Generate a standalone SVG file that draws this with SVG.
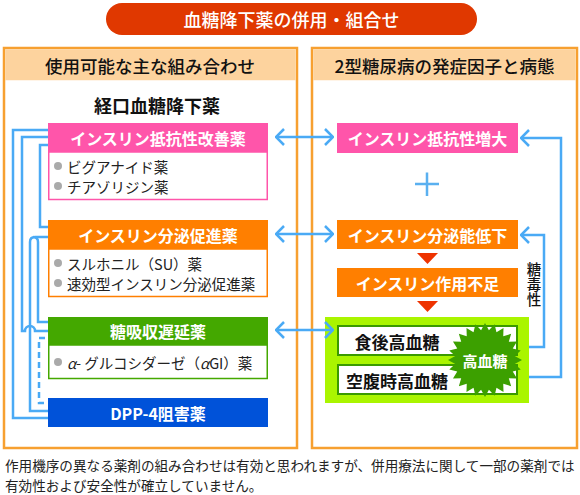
<svg xmlns="http://www.w3.org/2000/svg" width="580" height="495" viewBox="0 0 580 495">
<style>
text{font-family:"Noto Sans CJK JP","Noto Sans",sans-serif;dominant-baseline:central}
.panel{fill:#fff;stroke:#f7a030;stroke-width:2.5}
.phead{fill:#fdd39e}
.ptxt{font-size:17.5px;font-weight:500;fill:#111;text-anchor:middle}
.htxt{font-size:16px;font-weight:bold;fill:#fff;text-anchor:middle}
.itxt{font-size:14.5px;fill:#222}
.dot{fill:#aaa}
.con{fill:none;stroke:#4aaaf5;stroke-width:2.5}
.arr{fill:none;stroke:#4aaaf5;stroke-width:2.5;marker-start:url(#ch);marker-end:url(#ch)}
.arr1{fill:none;stroke:#4aaaf5;stroke-width:2.5;marker-end:url(#ch)}
.btxt{font-size:17px;font-weight:bold;fill:#111;text-anchor:middle}
.foot{font-size:13.6px;fill:#222}
</style>
<defs>
<marker id="ch" viewBox="0 0 10 18" refX="9" refY="9" markerWidth="10" markerHeight="18" markerUnits="userSpaceOnUse" orient="auto-start-reverse">
<path d="M1,1 L9,9 L1,17" fill="none" stroke="#4aaaf5" stroke-width="2.5"/>
</marker>
</defs>

<g id="title">
<rect x="106" y="3" width="371" height="32" rx="16" fill="#e03800"/>
<text x="291.5" y="19" font-size="18" font-weight="500" fill="#fff" text-anchor="middle">血糖降下薬の併用・組合せ</text>
</g>

<g id="panel-left">
<rect class="panel" x="4" y="48" width="293" height="400"/>
<rect class="phead" x="5.25" y="49.25" width="290.5" height="31"/>
<text class="ptxt" x="150" y="65">使用可能な主な組み合わせ</text>
<text x="157" y="105" font-size="18" font-weight="bold" fill="#111" text-anchor="middle">経口血糖降下薬</text>
</g>

<g id="panel-right">
<rect class="panel" x="312" y="48" width="265" height="400"/>
<rect class="phead" x="313.25" y="49.25" width="262.5" height="31"/>
<text class="ptxt" x="444.5" y="65">2型糖尿病の発症因子と病態</text>
</g>

<g id="drug-insulin-resistance">
<rect x="48.75" y="152" width="218.5" height="47.5" fill="#fff" stroke="#ff55aa" stroke-width="1.5"/>
<rect x="48" y="123" width="220" height="29" fill="#ff55aa"/>
<text class="htxt" x="158" y="137.5">インスリン抵抗性改善薬</text>
<circle class="dot" cx="58" cy="166" r="4"/>
<circle class="dot" cx="58" cy="186" r="4"/>
<text class="itxt" x="67" y="166">ビグアナイド薬<tspan x="67" dy="20">チアゾリジン薬</tspan></text>
</g>

<g id="drug-secretagogue">
<rect x="48.75" y="249" width="218.5" height="47.5" fill="#fff" stroke="#ff7f00" stroke-width="1.5"/>
<rect x="48" y="220" width="220" height="29" fill="#ff7f00"/>
<text class="htxt" x="158" y="234.5">インスリン分泌促進薬</text>
<circle class="dot" cx="58" cy="263" r="4"/>
<circle class="dot" cx="58" cy="283" r="4"/>
<text class="itxt" x="67" y="263">スルホニル（SU）薬<tspan x="67" dy="20">速効型インスリン分泌促進薬</tspan></text>
</g>

<g id="drug-agi">
<rect x="48.75" y="345" width="218.5" height="33.5" fill="#fff" stroke="#44a800" stroke-width="1.5"/>
<rect x="48" y="317" width="220" height="28" fill="#44a800"/>
<text class="htxt" x="158" y="331">糖吸収遅延薬</text>
<circle class="dot" cx="58" cy="362" r="4"/>
<text class="itxt" x="67" y="362"><tspan font-style="italic">α</tspan>- グルコシダーゼ（<tspan font-style="italic">α</tspan>GI）薬</text>
</g>

<g id="drug-dpp4">
<rect x="48" y="398" width="220" height="29" fill="#0052d9"/>
<text class="htxt" x="158" y="412.5">DPP-4阻害薬</text>
</g>

<g id="cause-resistance">
<rect x="337" y="123" width="181" height="30" fill="#ff55aa"/>
<text class="htxt" x="427.5" y="138" font-size="16.5">インスリン抵抗性増大</text>
</g>

<g id="plus">
<path d="M415,184 H439 M427,172.5 V196" stroke="#5ab0f0" stroke-width="2.5" fill="none"/>
</g>

<g id="cause-secretion">
<rect x="337" y="220" width="181" height="29" fill="#ff7f00"/>
<text class="htxt" x="427.5" y="234.5" font-size="16.5">インスリン分泌能低下</text>
</g>

<g id="cause-deficiency">
<rect x="337" y="268" width="181" height="29" fill="#ff7f00"/>
<text class="htxt" x="427.5" y="282.5" font-size="16.5">インスリン作用不足</text>
</g>

<g id="hyperglycemia">
<rect x="325" y="317" width="204" height="86" fill="#aaf500"/>
<rect x="338" y="326" width="179" height="29" fill="#fff" stroke="#3a9a00" stroke-width="2"/>
<text class="btxt" x="397" y="341">食後高血糖</text>
<rect x="338" y="365" width="179" height="29" fill="#fff" stroke="#3a9a00" stroke-width="2"/>
<text class="btxt" x="397" y="380">空腹時高血糖</text>
<polygon fill="#3ca000" points="485,323 488.92,330.26 494.58,324.26 496.48,332.28 503.5,327.96 503.26,336.2 511.16,333.84 508.8,341.74 517.04,341.5 512.72,348.52 520.74,350.42 514.74,356.08 522,360 514.74,363.92 520.74,369.58 512.72,371.48 517.04,378.5 508.8,378.26 511.16,386.16 503.26,383.8 503.5,392.04 496.48,387.72 494.58,395.74 488.92,389.74 485,397 481.08,389.74 475.42,395.74 473.52,387.72 466.5,392.04 466.74,383.8 458.84,386.16 461.2,378.26 452.96,378.5 457.28,371.48 449.26,369.58 455.26,363.92 448,360 455.26,356.08 449.26,350.42 457.28,348.52 452.96,341.5 461.2,341.74 458.84,333.84 466.74,336.2 466.5,327.96 473.52,332.28 475.42,324.26 481.08,330.26"/>
<text x="485" y="360" font-size="15" font-weight="bold" fill="#fff" text-anchor="middle">高血糖</text>
</g>

<g id="glucotoxicity">
<text x="534" y="262" font-size="14.5" font-weight="500" fill="#111" writing-mode="vertical-rl" letter-spacing="0.5">糖毒性</text>
</g>

<g id="connectors">
<polygon points="417,253 438,253 427.5,264" fill="#ee3300"/>
<polygon points="417,301 438,301 427.5,312" fill="#ee3300"/>
<path class="arr" d="M276,137 H333"/>
<path class="arr" d="M276,234 H333"/>
<path class="arr" d="M276,330 H333"/>
<path class="arr1" d="M529,377 H561 V138 H521"/>
<path class="arr1" d="M529,347 H544 V235 H521"/>
<path class="con" d="M48,130 H13 V418 H48"/>
<path class="con" d="M48,137 H22 V331 H25 A5,5 0 0 1 35,331 H48"/>
<path class="con" d="M48,145 H40 V227 H48"/>
<path class="con" d="M48,237 H35 Q30,237 30,242 V411 H48"/>
<path class="con" d="M48,322 H38 V242 Q38,237 33,237"/>
<path class="con" d="M45,338 H39 V403 H48" stroke-dasharray="6,4"/>
</g>

<g id="footnote">
<text class="foot" x="5" y="465">作用機序の異なる薬剤の組み合わせは有効と思われますが、併用療法に関して一部の薬剤では</text>
<text class="foot" x="5" y="485">有効性および安全性が確立していません。</text>
</g>
</svg>
